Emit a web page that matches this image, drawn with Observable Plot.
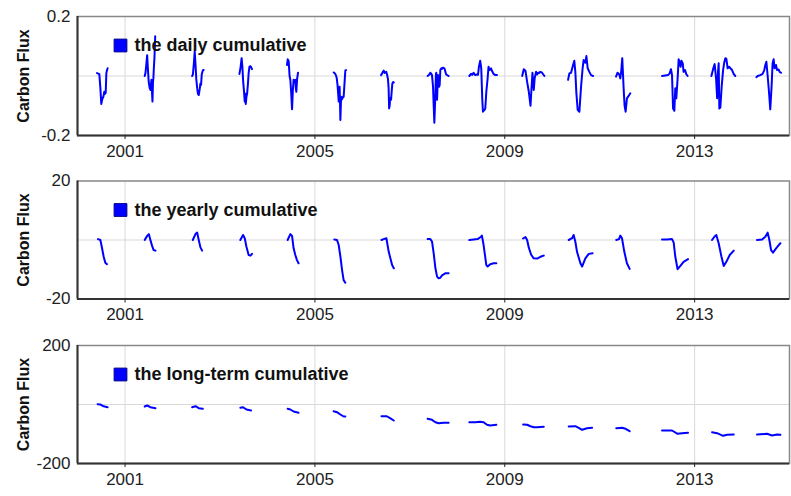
<!DOCTYPE html>
<html><head><meta charset="utf-8">
<script src="https://cdn.jsdelivr.net/npm/d3@7"></script>
<script src="https://cdn.jsdelivr.net/npm/@observablehq/plot@0.6"></script>
<style>body{margin:0;background:#fff}#chart svg{display:block}</style>
</head><body><div id="chart"></div><script>
const years = [2000,2001,2002,2003,2004,2005,2006,2007,2008,2009,2010,2011,2012,2013,2014];
const xTickYears = [2001,2005,2009,2013];

// Daily cumulative: day-of-year and value per year
const dailyDoy = [
  [151,160,169,177,184,188,194,200,207,212,218,223,228,233],
  [152,158,165,171,176,183,190,196,200,204,208,212,216,219,223,227,233],
  [152,158,165,172,178,184,191,197,203,210,216,221,226,232,236,241],
  [151,160,168,174,180,186,192,196,200,205,210,216,222,228,235,241,248],
  [152,158,165,172,178,185,191,197,203,209,216,220,224,230,237],
  [145,152,160,168,175,180,184,188,191,194,197,201,205,210,216,222,228,235,241],
  [145,152,160,166,172,178,185,191,198,203,207,211,215,219,222,227,232,238,243],
  [138,150,159,165,172,180,185,190,194,198,202,205,208,211,215,218,223,227,231,236,244,249,254,261,269,280,288,300],
  [94,107,117,127,140,153,161,168,178,186,194,199,209,217,225,235,242,250,261,271,281,294,307],
  [135,147,160,173,186,199,206,214,224,231,242,250,258,265,275,288,306],
  [123,133,146,158,171,179,187,197,210,223,235,243,256,264,274,287,300,315],
  [127,139,152,160,168,175,185,193,201,211,224,237],
  [116,141,162,175,185,193,201,211,218,226,236,244,252,259,265,275,282,293,303,313],
  [130,143,155,166,174,181,186,191,199,209,220,230,238,245,255,266,276,289,301,314],
  [111,121,141,159,172,180,188,198,208,218,228,236,244,251,262,270,282,290,301]
];
const dailyVal = [
  [0.01,0.008,0.006,-0.04,-0.094,-0.085,-0.075,-0.07,-0.053,-0.06,-0.057,0.009,0.02,0.026],
  [0,0.01,0.04,0.07,0.03,-0.02,-0.04,-0.047,-0.03,-0.013,-0.05,-0.086,-0.02,-0.008,0.03,0.06,0.134],
  [0,0.005,0.04,0.082,0.04,-0.01,-0.041,-0.06,-0.064,-0.045,-0.025,-0.03,0.005,0.015,0.02,0.02],
  [0.007,0.03,0.06,0.03,-0.02,-0.05,-0.086,-0.06,-0.094,-0.07,-0.06,-0.03,0.01,0.031,0.033,0.03,0.023],
  [0.037,0.056,0.05,0,-0.013,-0.06,-0.112,-0.05,-0.013,-0.02,-0.013,-0.04,-0.053,-0.01,0.011],
  [0.012,0.01,0.005,-0.005,-0.03,-0.06,-0.086,-0.04,-0.036,-0.09,-0.148,-0.09,-0.07,-0.078,-0.072,-0.07,-0.03,0.018,0.02],
  [0.003,0.008,0.015,0.018,0.01,0.012,0.014,0.005,-0.01,-0.04,-0.109,-0.1,-0.075,-0.08,-0.08,-0.05,-0.025,-0.02,-0.022],
  [0,0.004,0.011,0.008,0.003,-0.036,-0.1,-0.157,-0.11,-0.06,0.005,0.011,-0.05,-0.08,-0.03,0.003,-0.036,-0.036,-0.03,0.02,0.026,0.024,0.028,0.028,0.024,0.006,0.003,0],
  [0,0.007,0.004,0.011,0.003,0.005,0.004,0.031,0.051,0.026,-0.08,-0.12,-0.115,-0.109,-0.053,-0.008,0.031,0.02,0.026,0.015,0.007,0.003,0.003],
  [0,0.023,0.018,-0.02,-0.053,-0.1,-0.047,0.011,-0.047,-0.008,0.014,0.005,0.011,0.01,0.014,0.011,0],
  [-0.013,0.009,0.011,0.031,0.051,0.014,-0.058,-0.114,-0.12,-0.036,0.026,0.054,0.045,0.067,0.026,0.014,0.003,0],
  [-0.002,0.011,0.005,-0.008,0.02,0.06,-0.036,-0.1,-0.12,-0.075,-0.067,-0.058],
  [0,0.002,0.003,0.009,0.023,0.003,-0.109,-0.117,-0.041,-0.075,-0.008,0.056,0.045,0.031,0.051,0.043,0.014,0.02,0.006,0],
  [0,0.023,0.04,-0.008,-0.075,0.014,0.043,-0.109,-0.106,-0.036,0.02,0.048,0.06,0.058,0.026,0.031,0.026,0.02,0.007,0],
  [-0.004,0,0.003,0.007,0.02,0.037,0.048,0,-0.053,-0.112,-0.036,0.043,0.056,0.026,0.037,0.02,0.022,0.014,0.011]
];

// Yearly cumulative
const yearlyDoy = [
  [159,177,190,202,215,228],
  [152,171,184,196,209,221,235],
  [157,178,191,203,216,229],
  [158,179,192,205,222,236,248],
  [157,178,191,203,216,229,241],
  [150,171,184,197,210,222,235],
  [148,165,186,204,230,243],
  [138,159,172,185,198,211,223,236,249,274,300],
  [94,127,158,184,191,204,225,235,255,281,302],
  [142,160,173,186,204,224,250,275,301],
  [128,154,166,179,192,218,231,256,282,312],
  [129,150,160,173,191,211,232],
  [116,155,193,206,218,236,257,282,316],
  [135,153,168,186,207,225,245,271,302],
  [116,155,180,198,211,224,239,257,278,296]
];
const yearlyVal = [
  [0.3,0,-2.8,-5.6,-7.7,-8.2],
  [0,1.4,2.0,0,-2.0,-3.4,-3.6],
  [0,2.0,2.5,0,-2.5,-3.6],
  [0,1.7,0.6,-2.3,-5.1,-5.3,-4.7],
  [0,2.0,1.4,-2.8,-5.1,-6.8,-7.9],
  [0.2,0,-1.7,-5.6,-10.2,-13.6,-14.5],
  [0,0.3,0.6,-4.0,-8.5,-9.6],
  [0.3,0.3,-0.5,-4.5,-9.5,-12.4,-13.0,-12.8,-12.0,-11.3,-11.3],
  [0,0.2,0.3,1.1,1.5,-1.7,-8.5,-9.0,-8.2,-7.9,-7.9],
  [0.5,1.0,0,-2.6,-5.0,-6.2,-6.3,-5.7,-5.3],
  [0,0.6,1.7,-0.6,-4.0,-7.9,-9.0,-6.2,-4.7,-4.5],
  [0,0.3,1.5,0.6,-4.0,-7.9,-9.8],
  [0.2,0.2,0.3,-0.9,-5.6,-9.9,-8.8,-7.4,-6.5],
  [0,1.1,1.7,-1.1,-5.6,-8.8,-7.4,-5.1,-3.6],
  [0,0.2,1.1,2.5,0,-3.4,-4.3,-3.2,-2.0,-1.1]
];

// Long-term cumulative
const longDoy = [
  [156,177,202,233],
  [152,171,196,235],
  [152,178,203,234],
  [158,179,205,241],
  [157,178,203,241],
  [145,171,197,222,235],
  [148,186,211,243],
  [138,172,198,223,261,300],
  [94,140,178,204,230,255,302],
  [142,173,199,224,250,301],
  [128,179,205,231,269,308],
  [129,173,201,232],
  [116,193,236,270,316],
  [135,174,220,251,302],
  [116,193,232,270,296]
];
const longVal = [
  [1,0,-6,-9.2],
  [-6.8,-3.4,-9.2,-12.5],
  [-9.2,-5.8,-12.5,-14.6],
  [-11.2,-9.2,-17,-20.3],
  [-14.6,-17,-23.7,-28.1],
  [-22.7,-26.1,-33.9,-40.7,-40.7],
  [-39.7,-39.7,-45.1,-54.2],
  [-48.5,-51.9,-60,-63.4,-62,-62],
  [-60,-60,-58.6,-60,-68.8,-71.2,-68.8],
  [-67.8,-68.8,-73.6,-77,-77,-75.6],
  [-74.6,-73.6,-79,-85.8,-80.3,-79],
  [-80.3,-79,-82.4,-90.5],
  [-88.1,-88.1,-99.3,-97.3,-95.9],
  [-93.9,-97.3,-106.1,-102.7,-101.7],
  [-101.7,-99.3,-105.1,-101.7,-102.7]
];

const panelLegends = ["the daily cumulative","the yearly cumulative","the long-term cumulative"];
const panelDomains = [[-0.2,0.2],[-20,20],[-200,200]];
const yLabel = "Carbon Flux";

const FONT = "'Liberation Sans', Arial, sans-serif";
const xDomain = [new Date(Date.UTC(2000,0,1)), new Date(Date.UTC(2015,0,1))];
const xTicks = xTickYears.map(y => new Date(Date.UTC(y,0,1)));

function makePanel(doy, val, domain, legend, height, mt, mb) {
  const rows = [];
  years.forEach((yr, i) => doy[i].forEach((d, j) => rows.push({year: yr, date: new Date(Date.UTC(yr, 0, d)), value: val[i][j]})));
  return Plot.plot({
    width: 791, height, marginLeft: 77, marginRight: 2, marginTop: mt, marginBottom: mb,
    style: {fontFamily: FONT, fontSize: "17px", color: "#222", background: "#fff", overflow: "visible"},
    x: {type: "utc", domain: xDomain, label: null},
    y: {domain, label: null},
    marks: [
      Plot.gridX(xTicks, {stroke: "#d9d9d9", strokeOpacity: 1}),
      Plot.gridY([0], {stroke: "#d9d9d9", strokeOpacity: 1}),
      Plot.frame({stroke: "#888", strokeWidth: 1.5}),
      Plot.ruleX([xDomain[0]], {stroke: "#333", strokeWidth: 2}),
      Plot.ruleY([domain[0]], {stroke: "#333", strokeWidth: 2}),
      Plot.axisX(xTicks, {tickFormat: d => String(d.getUTCFullYear()), tickSize: 4, tickPadding: 5, fontSize: 17, color: "#222", label: null}),
      Plot.axisY(domain, {tickFormat: d => String(d), tickSize: 0, tickPadding: 7, fontSize: 17, color: "#222", label: null}),
      Plot.line(rows, {x: "date", y: "value", z: "year", stroke: "#0000ff", strokeWidth: 2}),
      Plot.text([yLabel], {x: null, y: null, text: d => d, frameAnchor: "left", textAnchor: "middle", dx: -54, rotate: -90, fontWeight: "bold", fontSize: 16, fill: "#111"}),
      Plot.dot([legend], {x: null, y: null, frameAnchor: "top-left", dx: 43, dy: 29, symbol: "square", r: 7.2, fill: "#0000ff", stroke: "#00008b", strokeWidth: 1}),
      Plot.text([legend], {x: null, y: null, text: d => d, frameAnchor: "top-left", dx: 57, dy: 29, textAnchor: "start", lineAnchor: "middle", fontWeight: "bold", fontSize: 18, fill: "#111"})
    ]
  });
}

const chart = document.getElementById("chart");
chart.appendChild(makePanel(dailyDoy, dailyVal, panelDomains[0], panelLegends[0], 165, 16, 30));
chart.appendChild(makePanel(yearlyDoy, yearlyVal, panelDomains[1], panelLegends[1], 165, 15.5, 31.5));
chart.appendChild(makePanel(longDoy, longVal, panelDomains[2], panelLegends[2], 166, 15, 33));
</script></body></html>
